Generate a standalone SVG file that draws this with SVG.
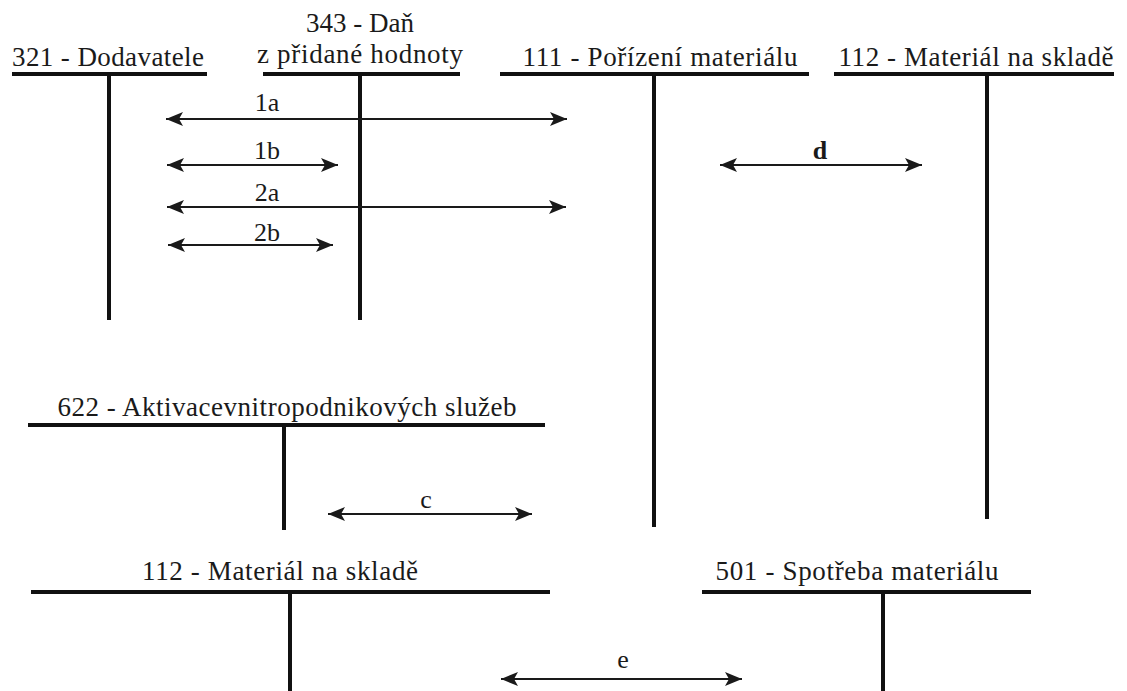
<svg xmlns="http://www.w3.org/2000/svg" width="1127" height="691" viewBox="0 0 1127 691">
<style>
.t{stroke:#111;stroke-width:4;fill:none;stroke-linecap:butt}
.lbl{font-family:"Liberation Serif","DejaVu Serif",serif;font-size:27px;fill:#1a1a1a;text-anchor:middle}
.al{font-family:"Liberation Serif","DejaVu Serif",serif;font-size:26px;fill:#1a1a1a;text-anchor:middle}
.ar{stroke:#1a1a1a;stroke-width:2;fill:none;marker-start:url(#ah);marker-end:url(#ah)}
</style>
<defs>
<marker id="ah" viewBox="-1 -8 19 16" markerWidth="19" markerHeight="16" refX="17" refY="0" orient="auto-start-reverse" markerUnits="userSpaceOnUse">
<path d="M0,-7 L17,0 L0,7 L4,0 Z" fill="#1a1a1a"/>
</marker>
</defs>
<rect width="1127" height="691" fill="#fff"/>
<g id="acc321">
<path class="t" d="M12,74 H207 M109,74 V320"/>
<text class="lbl" x="108" y="66" textLength="192">321 - Dodavatele</text>
</g>
<g id="acc343">
<path class="t" d="M263,74 H460 M360,74 V320"/>
<text class="lbl" x="360" y="32">343 - Daň</text>
<text class="lbl" x="360" y="63" textLength="206">z přidané hodnoty</text>
</g>
<g id="acc111">
<path class="t" d="M500,74 H809 M654,74 V527"/>
<text class="lbl" x="660" y="66" textLength="275">111 - Pořízení materiálu</text>
</g>
<g id="acc112top">
<path class="t" d="M834,74 H1114 M987,74 V519"/>
<text class="lbl" x="976" y="66" textLength="275">112 - Materiál na skladě</text>
</g>
<g id="acc622">
<path class="t" d="M28,425 H545 M284,425 V530"/>
<text class="lbl" x="287" y="416" textLength="459">622 - Aktivacevnitropodnikových služeb</text>
</g>
<g id="acc112bottom">
<path class="t" d="M31,592 H550 M290,592 V691"/>
<text class="lbl" x="280" y="580" textLength="276">112 - Materiál na skladě</text>
</g>
<g id="acc501">
<path class="t" d="M702,592 H1031 M883,592 V691"/>
<text class="lbl" x="857" y="580" textLength="283">501 - Spotřeba materiálu</text>
</g>
<g id="connectors">
<line class="ar" x1="166" y1="119" x2="567" y2="119"/>
<line class="ar" x1="167" y1="165" x2="338" y2="165"/>
<line class="ar" x1="167" y1="207" x2="566" y2="207"/>
<line class="ar" x1="168" y1="245" x2="333" y2="245"/>
<line class="ar" x1="720" y1="165" x2="922" y2="165"/>
<line class="ar" x1="328" y1="514" x2="532" y2="514"/>
<line class="ar" x1="501" y1="679" x2="742" y2="679"/>
<text class="al" x="267" y="111">1a</text>
<text class="al" x="267" y="159">1b</text>
<text class="al" x="267" y="201">2a</text>
<text class="al" x="267" y="241">2b</text>
<text class="al" x="820" y="159" font-weight="bold">d</text>
<text class="al" x="426" y="508">c</text>
<text class="al" x="623" y="668">e</text>
</g>
</svg>
